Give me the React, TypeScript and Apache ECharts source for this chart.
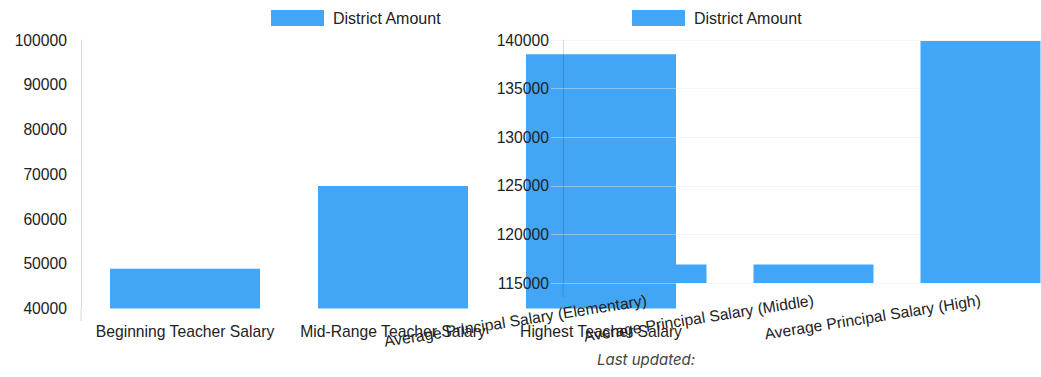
import { useEffect, useRef } from 'react';
import * as echarts from 'echarts';

// Teacher salary bars (left panel)
const teacherCategories = [
  'Beginning Teacher Salary',
  'Mid-Range Teacher Salary',
  'Highest Teacher Salary',
];
const teacherAmounts = [48900, 67400, 96800];
const teacherAxisMin = 40000;
const teacherAxisMax = 100000;
const teacherAxisStep = 10000;

// Principal salary bars (right panel)
const principalCategories = [
  'Average Principal Salary (Elementary)',
  'Average Principal Salary (Middle)',
  'Average Principal Salary (High)',
];
const principalAmounts = [116900, 116900, 139900];
const principalAxisMin = 115000;
const principalAxisMax = 140000;
const principalAxisStep = 5000;

const seriesName = 'District Amount';
const footerText = 'Last updated:';

const FONT = '"Liberation Sans", Arial, Helvetica, sans-serif';
const TEXT = '#222';
const BLUE = '#42a5f5';
const AXIS_LINE = 'rgba(0,0,0,0.15)';
const GRID_LINE = 'rgba(232,232,232,0.45)';

const plain = (v: number) => String(v);

export default function App() {
  const ref = useRef<HTMLDivElement>(null);

  useEffect(() => {
    if (!ref.current) return;
    const chart = echarts.init(ref.current, undefined, { renderer: 'svg' });

    const legendBase = {
      data: [seriesName],
      top: 10,
      padding: 0,
      icon: 'rect',
      itemWidth: 53,
      itemHeight: 16,
      textStyle: { fontFamily: FONT, fontSize: 16, color: TEXT, padding: [0, 0, 0, 4] },
    };

    chart.setOption({
      animation: false,
      backgroundColor: '#fff',
      legend: [
        { ...legendBase, left: 271 },
        { ...legendBase, left: 632 },
      ],
      grid: [
        { left: 81, top: 40, width: 624, height: 268.5 },
        { left: 563, top: 40, width: 501, height: 243 },
      ],
      xAxis: [
        {
          type: 'category',
          gridIndex: 0,
          data: teacherCategories,
          axisLine: { show: false },
          axisTick: { show: false },
          axisLabel: {
            interval: 0,
            margin: 15,
            fontFamily: FONT,
            fontSize: 15.7,
            color: TEXT,
          },
          z: 1,
        },
        {
          type: 'category',
          gridIndex: 1,
          data: principalCategories,
          axisLine: { show: false },
          axisTick: { show: false },
          axisLabel: {
            interval: 0,
            rotate: 9,
            margin: 17,
            fontFamily: FONT,
            fontSize: 15.7,
            color: TEXT,
          },
          z: 4,
        },
      ],
      yAxis: [
        {
          type: 'value',
          gridIndex: 0,
          min: teacherAxisMin,
          max: teacherAxisMax,
          interval: teacherAxisStep,
          axisLine: { show: true, lineStyle: { color: AXIS_LINE, width: 1 } },
          axisTick: { show: false },
          splitLine: { show: false },
          axisLabel: { margin: 14, fontFamily: FONT, fontSize: 15.7, color: TEXT, formatter: plain },
          z: 1,
        },
        {
          type: 'value',
          gridIndex: 1,
          min: principalAxisMin,
          max: principalAxisMax,
          interval: principalAxisStep,
          axisLine: { show: true, lineStyle: { color: AXIS_LINE, width: 1 } },
          axisTick: { show: true, length: 12, lineStyle: { color: GRID_LINE } },
          splitLine: { show: true, lineStyle: { color: GRID_LINE, width: 1 } },
          axisLabel: { margin: 14, fontFamily: FONT, fontSize: 15.7, color: TEXT, formatter: plain },
          z: 4,
        },
      ],
      series: [
        {
          name: seriesName,
          type: 'bar',
          xAxisIndex: 0,
          yAxisIndex: 0,
          data: teacherAmounts,
          barWidth: 150,
          itemStyle: { color: BLUE },
          z: 2,
        },
        {
          name: seriesName,
          type: 'bar',
          xAxisIndex: 1,
          yAxisIndex: 1,
          data: principalAmounts,
          barWidth: 120,
          itemStyle: { color: BLUE },
          z: 5,
        },
      ],
      graphic: [
        // axis border continues a little below each plot area
        {
          type: 'line',
          shape: { x1: 81, y1: 308.5, x2: 81, y2: 321 },
          style: { stroke: AXIS_LINE, lineWidth: 1 },
          z: 1,
        },
        {
          type: 'line',
          shape: { x1: 563, y1: 283, x2: 563, y2: 297 },
          style: { stroke: AXIS_LINE, lineWidth: 1 },
          z: 6,
        },
        {
          type: 'text',
          left: 645 - 48,
          top: 352,
          style: {
            text: footerText,
            font: 'italic 15px Inter, "Noto Sans", sans-serif',
            fill: '#444',
          },
        },
      ],
    });

    return () => chart.dispose();
  }, []);

  // The right-hand plot runs past the visible edge, so the chart surface is
  // wider than the frame that shows it.
  return (
    <div
      style={{
        position: 'absolute',
        left: 0,
        top: 0,
        width: 1041,
        height: 377,
        overflow: 'hidden',
      }}
    >
      <div ref={ref} style={{ width: 1080, height: 377 }} />
    </div>
  );
}
